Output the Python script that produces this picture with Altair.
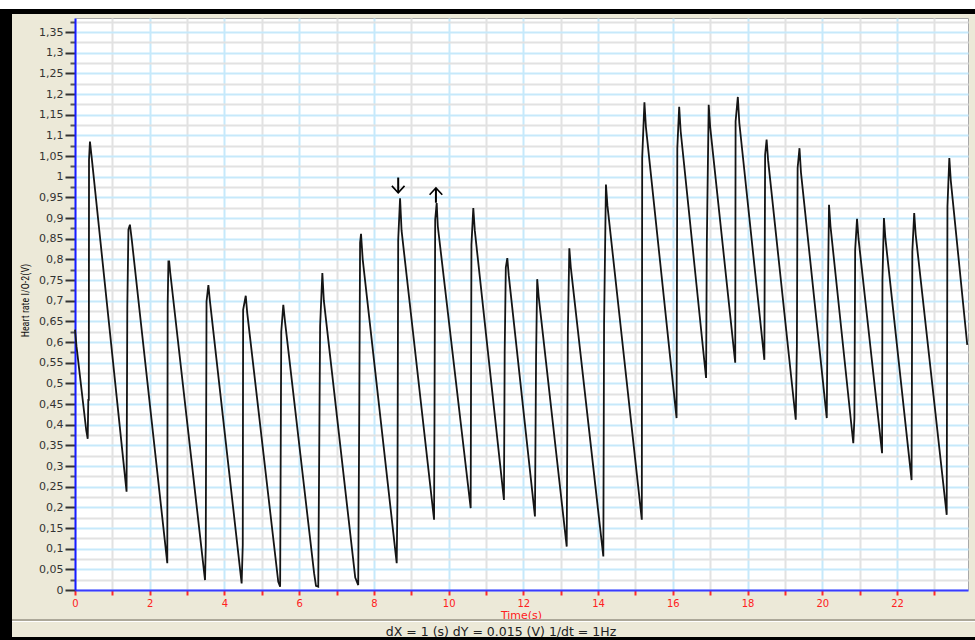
import altair as alt
import pandas as pd

# ---- data (time in s, value in V) ----
times = [0.00, 0.04, 0.30, 0.34, 0.356, 0.37, 0.375, 0.40, 0.447, 1.38,
         1.40, 1.43, 1.47, 1.52, 2.47,
         2.48, 2.50, 2.52, 2.55, 3.48,
         3.50, 3.52, 3.57, 3.61, 4.46,
         4.49, 4.50, 4.57, 4.61, 5.44, 5.49,
         5.52, 5.575, 5.62, 6.40, 6.45, 6.51,
         6.56, 6.62, 6.66, 7.50, 7.58,
         7.61, 7.63, 7.655, 7.70, 8.61,
         8.63, 8.65, 8.70, 8.74, 9.61,
         9.62, 9.64, 9.68, 9.71, 10.59,
         10.61, 10.66, 10.70, 11.48,
         11.50, 11.53, 11.57, 11.61, 12.31,
         12.34, 12.37, 12.41, 13.16,
         13.19, 13.23, 13.27, 14.14,
         14.16, 14.21, 14.25, 15.17,
         15.18, 15.24, 15.28, 16.10,
         16.12, 16.17, 16.21, 16.89,
         16.91, 16.96, 17.00, 17.67,
         17.68, 17.74, 17.78, 18.45,
         18.47, 18.51, 18.55, 19.29,
         19.32, 19.34, 19.39, 19.43, 20.12,
         20.14, 20.18, 20.22, 20.83,
         20.86, 20.88, 20.93, 20.97, 21.60,
         21.61, 21.65, 21.69, 22.39,
         22.41, 22.46, 22.50, 23.33,
         23.35, 23.40, 23.44, 23.88]
volts = [0.63, 0.59, 0.387, 0.366, 0.46, 0.46, 1.041, 1.085, 1.046, 0.238,
         0.686, 0.872, 0.884, 0.847, 0.065,
         0.69, 0.795, 0.795, 0.767, 0.024,
         0.109, 0.698, 0.738, 0.70, 0.016,
         0.109, 0.678, 0.712, 0.67, 0.02, 0.008,
         0.625, 0.69, 0.65, 0.04, 0.01, 0.008,
         0.638, 0.767, 0.70, 0.03, 0.012,
         0.468, 0.84, 0.862, 0.80, 0.065,
         0.218, 0.847, 0.948, 0.87, 0.17,
         0.387, 0.896, 0.936, 0.88, 0.198,
         0.835, 0.924, 0.87, 0.218,
         0.577, 0.78, 0.803, 0.76, 0.178,
         0.565, 0.752, 0.71, 0.105,
         0.622, 0.827, 0.78, 0.081,
         0.646, 0.981, 0.93, 0.17,
         1.045, 1.18, 1.12, 0.416,
         1.069, 1.169, 1.11, 0.513,
         0.839, 1.174, 1.12, 0.55,
         1.134, 1.193, 1.13, 0.557,
         1.053, 1.09, 1.04, 0.412,
         0.589, 1.021, 1.069, 1.01, 0.416,
         0.642, 0.932, 0.88, 0.355,
         0.416, 0.823, 0.898, 0.85, 0.331,
         0.751, 0.90, 0.85, 0.266,
         0.819, 0.912, 0.86, 0.182,
         0.928, 1.045, 0.99, 0.593]

x_ticks = list(range(0, 24))
y_ticks = [round(i * 0.025, 3) for i in range(0, 56)]

arrow_t = [8.65, 9.66]
arrow_top = [0.998, 0.973]
arrow_bot = [0.961, 0.937]
arrow_tip = [0.961, 0.973]
arrow_shape = ["M -1 -1.1 L 0 0 L 1 -1.1", "M -1 1.1 L 0 0 L 1 1.1"]

status_text = "dX = 1 (s) dY = 0.015 (V)  1/dt = 1Hz"

df = pd.DataFrame({"t": times, "v": volts})
arr = pd.DataFrame({"t": arrow_t, "top": arrow_top, "bot": arrow_bot,
                    "tip": arrow_tip, "shape": arrow_shape})

W, H = 893, 572
xs = alt.Scale(domain=[0, 23.9], nice=False, zero=False)
ys = alt.Scale(domain=[0, 1.384], nice=False, zero=False)

x_axis = alt.Axis(
    values=x_ticks, grid=True,
    gridColor={"condition": {"test": "datum.value % 2 == 0", "value": "#c6e9fb"}, "value": "#e2e2e2"},
    gridWidth=2, tickColor="#ff2a2a", tickSize=5, tickWidth=2,
    labelColor="#ff2020", labelFont="DejaVu Sans", labelFontSize=10, labelPadding=3,
    labelExpr="datum.value % 2 == 0 ? datum.label : ''", labelFlush=False, labelOverlap=False,
    domainColor="#3b3bff", domainWidth=2,
    title="Time(s)", titleColor="#ff2020", titleFont="DejaVu Sans", titleFontSize=11,
    titleFontWeight="normal", titleX=446, titleY=25, titleBaseline="middle", titleAlign="center",
)
y_axis = alt.Axis(
    values=y_ticks, grid=True,
    gridColor={"condition": {"test": "round(datum.value*1000) % 50 == 0", "value": "#c6e9fb"}, "value": "#e2e2e2"},
    gridWidth=2, tickWidth=2,
    tickColor={"condition": {"test": "round(datum.value*1000) % 50 == 0", "value": "#333333"}, "value": "#555555"},
    tickSize={"condition": {"test": "round(datum.value*1000) % 50 == 0", "value": 10}, "value": 5},
    labelColor="#333333", labelFont="DejaVu Sans", labelFontSize=11, labelPadding=2,
    labelExpr="round(datum.value*1000) % 50 == 0 ? replace(format(datum.value, '.2~f'), '.', ',') : ''",
    labelFlush=False, labelOverlap=False,
    domainColor="#1a1aff", domainWidth=2,
    title="Heart rate I/O-2(V)", titleColor="#111111",
    titleFont="Liberation Sans Narrow, Arial Narrow, Roboto Condensed, sans-serif",
    titleFontSize=10, titleFontWeight="normal", titleAngle=270,
    titleX=-50, titleY=282, titleAlign="center", titleBaseline="middle",
)

X = lambda f: alt.X(f, scale=xs, axis=x_axis)
Y = lambda f: alt.Y(f, scale=ys, axis=y_axis)

line = alt.Chart(df).mark_line(color="#151515", strokeWidth=1.8, interpolate="linear").encode(
    x=X("t:Q"), y=Y("v:Q"))

stems = alt.Chart(arr).mark_rule(color="#000000", strokeWidth=2).encode(
    x=X("t:Q"), y=Y("top:Q"), y2="bot:Q")
heads = alt.Chart(arr).mark_point(color="#000000", filled=False, strokeWidth=1.6, size=160, opacity=1).encode(
    x=X("t:Q"), y=Y("tip:Q"),
    shape=alt.Shape("shape:N", scale=None, legend=None))

one = alt.Data(values=[{"a": 1}])
def box(x, x2, y, y2, color):
    return alt.Chart(one).mark_rect(color=color).encode(
        x=alt.value(x), x2=alt.value(x2), y=alt.value(y), y2=alt.value(y2))

frame = [
    box(-75, 900, -18, -9, "#ffffff"),
    box(-75, 900, -9, -4, "#000000"),
    box(-75, -63, -9, 622, "#000000"),
    box(-75, 900, 619, 622, "#000000"),
    box(-63, 900, 601, 603, "#aca899"),
    box(-63, 900, 603, 604, "#ffffff"),
]
status = alt.Chart(one).mark_text(font="DejaVu Sans", fontSize=12.5, color="#222222",
                                  align="center", baseline="middle").encode(
    x=alt.value(426), y=alt.value(614), text=alt.value(status_text))

chart = alt.layer(line, stems, heads, *frame, status).properties(
    width=W, height=H,
    autosize=alt.AutoSizeParams(type="none"),
    padding={"left": 75, "top": 18, "right": 7, "bottom": 50},
    background="#ECE9D8",
).configure_view(fill="#ffffff", stroke="#a8a8a8")

chart.save("out.html", embed_options={"renderer": "svg", "actions": False})
